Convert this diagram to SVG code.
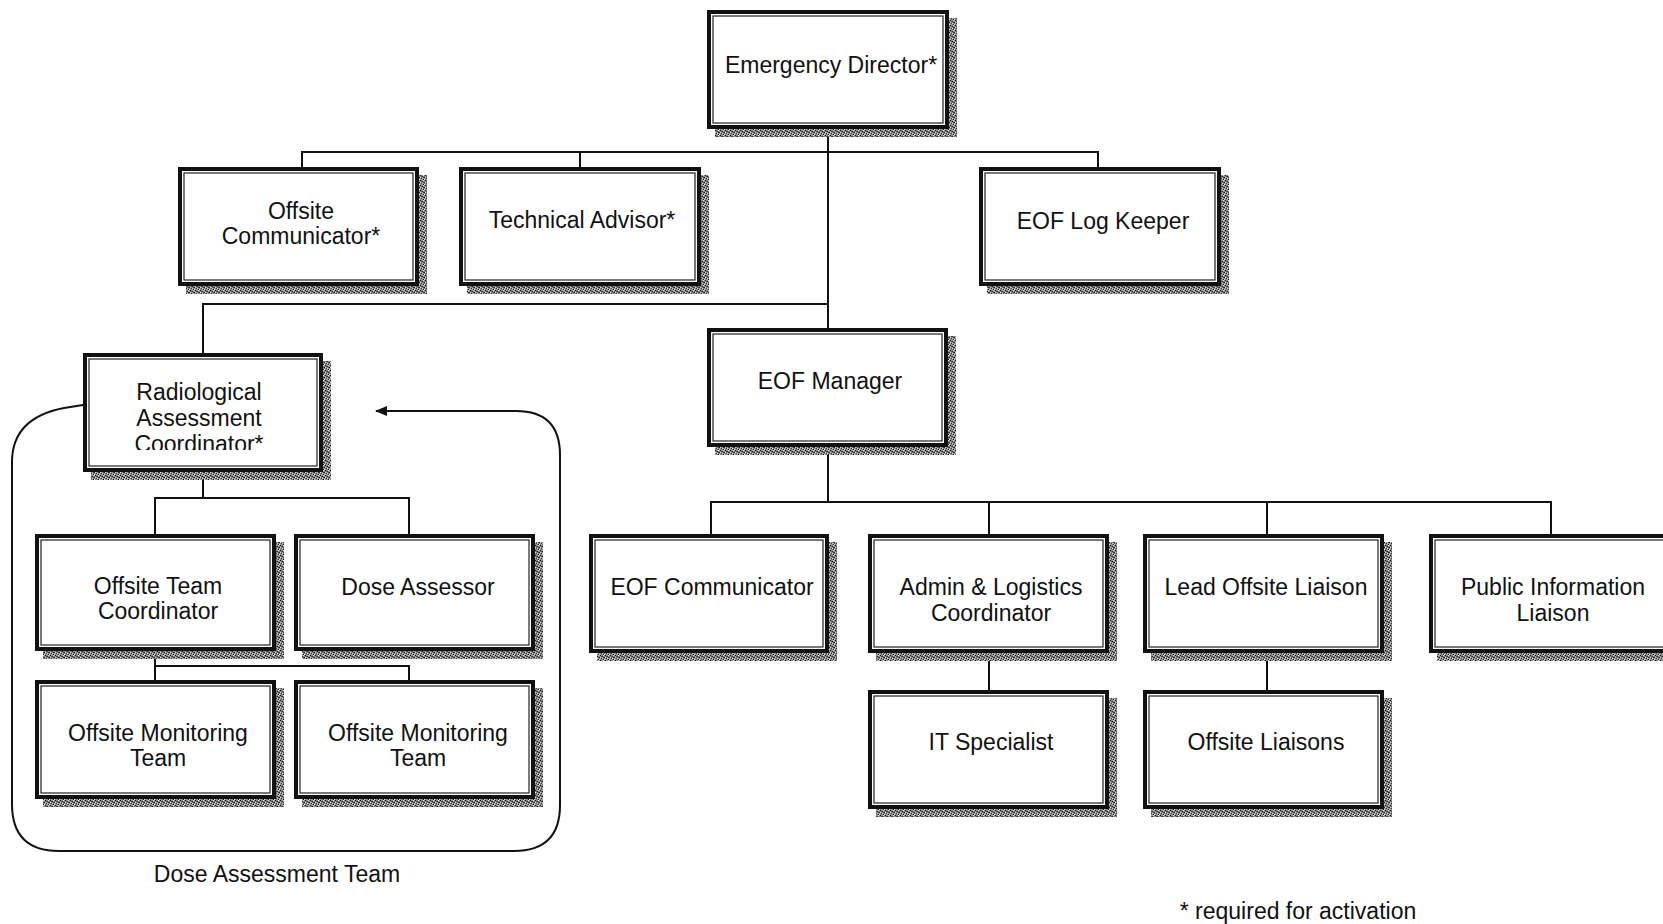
<svg xmlns="http://www.w3.org/2000/svg" width="1663" height="924" viewBox="0 0 1663 924">
  <defs>
    <!-- speckled drop shadow texture -->
    <pattern id="grain" width="5" height="5" patternUnits="userSpaceOnUse">
      <rect width="5" height="5" fill="#8c8c8c"/>
      <rect x="0" y="0" width="1" height="1" fill="#111"/>
      <rect x="2" y="1" width="1" height="1" fill="#2a2a2a"/>
      <rect x="4" y="2" width="1" height="1" fill="#1c1c1c"/>
      <rect x="1" y="3" width="1" height="1" fill="#3a3a3a"/>
      <rect x="3" y="4" width="1" height="1" fill="#111"/>
      <rect x="3" y="0" width="1" height="1" fill="#e0e0e0"/>
      <rect x="0" y="2" width="1" height="1" fill="#d6d6d6"/>
      <rect x="2" y="3" width="1" height="1" fill="#cfcfcf"/>
      <rect x="4" y="4" width="1" height="1" fill="#e8e8e8"/>
      <rect x="1" y="1" width="1" height="1" fill="#555"/>
      <rect x="3" y="2" width="1" height="1" fill="#444"/>
    </pattern>
    <marker id="arrow" markerWidth="12" markerHeight="10" refX="11" refY="5" orient="auto" markerUnits="userSpaceOnUse">
      <path d="M0,0 L12,5 L0,10 Z" fill="#111"/>
    </marker>
    <clipPath id="racClip">
      <rect x="83" y="353" width="240" height="97"/>
    </clipPath>
  </defs>
  <style>
    .shadow { fill: url(#grain); }
    .outer { fill: #fff; stroke: #111; stroke-width: 4; }
    .inner { fill: none; stroke: #222; stroke-width: 1.2; }
    .lbl { font-family: "Liberation Sans", Arial, sans-serif; font-size: 23px; fill: #111; text-anchor: middle; }
    .wire { fill: none; stroke: #111; stroke-width: 2; }
  </style>

  <rect width="1663" height="924" fill="#fff"/>

  <!-- connectors -->
  <g id="connectors" class="wire">
    <path d="M828,129 V328"/>
    <path d="M302,167 V152 H1098 V167"/>
    <path d="M580,152 V167"/>
    <path d="M203,353 V304 H828"/>
    <path d="M828,447 V502"/>
    <path d="M711,534 V502 H1551 V534"/>
    <path d="M989,502 V534"/>
    <path d="M1267,502 V534"/>
    <path d="M989,653 V690"/>
    <path d="M1267,653 V690"/>
    <path d="M203,472 V498 M155,534 V498 H409 V534"/>
    <path d="M155,651 V680 M155,666 H409 V680"/>
    <!-- dose assessment team boundary with return arrow -->
    <path d="M83,405 L64,408 Q12,418 12,462 L12,804 Q12,851 59,851 L514,851 Q560,851 560,805 L560,455 Q560,411 516,411 L376,411" marker-end="url(#arrow)"/>
  </g>

  <g id="emergency-director">
    <rect class="shadow" x="715" y="18" width="242" height="119"/>
    <rect class="outer" x="709" y="12" width="238" height="115"/>
    <rect class="inner" x="713" y="16" width="230" height="107"/>
    <text class="lbl" x="831" y="73">Emergency Director*</text>
  </g>

  <g id="offsite-communicator">
    <rect class="shadow" x="186" y="175" width="241" height="119"/>
    <rect class="outer" x="180" y="169" width="237" height="115"/>
    <rect class="inner" x="184" y="173" width="229" height="107"/>
    <text class="lbl" x="301" y="219">Offsite</text>
    <text class="lbl" x="301" y="244">Communicator*</text>
  </g>

  <g id="technical-advisor">
    <rect class="shadow" x="467" y="175" width="242" height="119"/>
    <rect class="outer" x="461" y="169" width="238" height="115"/>
    <rect class="inner" x="465" y="173" width="230" height="107"/>
    <text class="lbl" x="582" y="228">Technical Advisor*</text>
  </g>

  <g id="eof-log-keeper">
    <rect class="shadow" x="987" y="175" width="242" height="119"/>
    <rect class="outer" x="981" y="169" width="238" height="115"/>
    <rect class="inner" x="985" y="173" width="230" height="107"/>
    <text class="lbl" x="1103" y="229">EOF Log Keeper</text>
  </g>

  <g id="radiological-assessment-coordinator">
    <rect class="shadow" x="91" y="361" width="240" height="119"/>
    <rect class="outer" x="85" y="355" width="236" height="115"/>
    <rect class="inner" x="89" y="359" width="228" height="107"/>
    <g clip-path="url(#racClip)">
      <text class="lbl" x="199" y="400">Radiological</text>
      <text class="lbl" x="199" y="426">Assessment</text>
      <text class="lbl" x="199" y="452">Coordinator*</text>
    </g>
  </g>

  <g id="eof-manager">
    <rect class="shadow" x="715" y="336" width="241" height="119"/>
    <rect class="outer" x="709" y="330" width="237" height="115"/>
    <rect class="inner" x="713" y="334" width="229" height="107"/>
    <text class="lbl" x="830" y="389">EOF Manager</text>
  </g>

  <g id="eof-communicator">
    <rect class="shadow" x="597" y="542" width="240" height="119"/>
    <rect class="outer" x="591" y="536" width="236" height="115"/>
    <rect class="inner" x="595" y="540" width="228" height="107"/>
    <text class="lbl" x="712" y="595">EOF Communicator</text>
  </g>

  <g id="admin-logistics-coordinator">
    <rect class="shadow" x="876" y="542" width="241" height="119"/>
    <rect class="outer" x="870" y="536" width="237" height="115"/>
    <rect class="inner" x="874" y="540" width="229" height="107"/>
    <text class="lbl" x="991" y="595">Admin &amp; Logistics</text>
    <text class="lbl" x="991" y="621">Coordinator</text>
  </g>

  <g id="lead-offsite-liaison">
    <rect class="shadow" x="1151" y="542" width="241" height="119"/>
    <rect class="outer" x="1145" y="536" width="237" height="115"/>
    <rect class="inner" x="1149" y="540" width="229" height="107"/>
    <text class="lbl" x="1266" y="595">Lead Offsite Liaison</text>
  </g>

  <g id="public-information-liaison">
    <rect class="shadow" x="1437" y="542" width="241" height="119"/>
    <rect class="outer" x="1431" y="536" width="237" height="115"/>
    <rect class="inner" x="1435" y="540" width="229" height="107"/>
    <text class="lbl" x="1553" y="595">Public Information</text>
    <text class="lbl" x="1553" y="621">Liaison</text>
  </g>

  <g id="it-specialist">
    <rect class="shadow" x="876" y="698" width="241" height="119"/>
    <rect class="outer" x="870" y="692" width="237" height="115"/>
    <rect class="inner" x="874" y="696" width="229" height="107"/>
    <text class="lbl" x="991" y="750">IT Specialist</text>
  </g>

  <g id="offsite-liaisons">
    <rect class="shadow" x="1151" y="698" width="241" height="119"/>
    <rect class="outer" x="1145" y="692" width="237" height="115"/>
    <rect class="inner" x="1149" y="696" width="229" height="107"/>
    <text class="lbl" x="1266" y="750">Offsite Liaisons</text>
  </g>

  <g id="offsite-team-coordinator">
    <rect class="shadow" x="43" y="542" width="241" height="117"/>
    <rect class="outer" x="37" y="536" width="237" height="113"/>
    <rect class="inner" x="41" y="540" width="229" height="105"/>
    <text class="lbl" x="158" y="594">Offsite Team</text>
    <text class="lbl" x="158" y="619">Coordinator</text>
  </g>

  <g id="dose-assessor">
    <rect class="shadow" x="302" y="542" width="241" height="117"/>
    <rect class="outer" x="296" y="536" width="237" height="113"/>
    <rect class="inner" x="300" y="540" width="229" height="105"/>
    <text class="lbl" x="418" y="595">Dose Assessor</text>
  </g>

  <g id="offsite-monitoring-team-1">
    <rect class="shadow" x="43" y="688" width="241" height="119"/>
    <rect class="outer" x="37" y="682" width="237" height="115"/>
    <rect class="inner" x="41" y="686" width="229" height="107"/>
    <text class="lbl" x="158" y="741">Offsite Monitoring</text>
    <text class="lbl" x="158" y="766">Team</text>
  </g>

  <g id="offsite-monitoring-team-2">
    <rect class="shadow" x="302" y="688" width="241" height="119"/>
    <rect class="outer" x="296" y="682" width="237" height="115"/>
    <rect class="inner" x="300" y="686" width="229" height="107"/>
    <text class="lbl" x="418" y="741">Offsite Monitoring</text>
    <text class="lbl" x="418" y="766">Team</text>
  </g>

  <g id="captions">
    <text class="lbl" x="277" y="882">Dose Assessment Team</text>
    <text class="lbl" x="1298" y="919">* required for activation</text>
  </g>
</svg>
